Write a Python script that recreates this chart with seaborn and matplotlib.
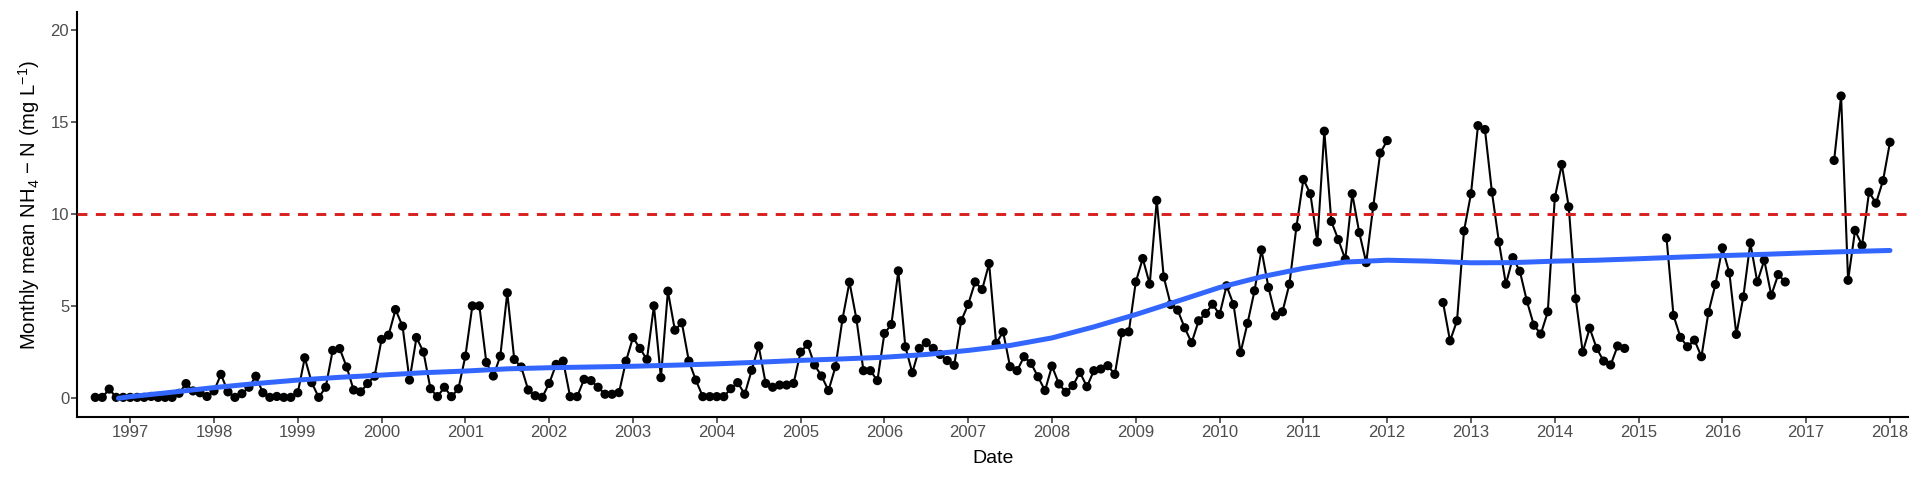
import numpy as np
import pandas as pd
import matplotlib
matplotlib.use("Agg")
import matplotlib.pyplot as plt
import seaborn as sns

# ---------------- data ----------------
start_year = 1996
start_month = 8          # first monthly value: Aug 1996, last: Jan 2018
nan = np.nan
nh4_1996 = [0.05, 0.05, 0.5, 0.05, 0.05]
nh4_1997 = [0.05, 0.05, 0.05, 0.1, 0.05, 0.05, 0.05, 0.27, 0.8, 0.4, 0.3, 0.1]
nh4_1998 = [0.4, 1.3, 0.35, 0.05, 0.25, 0.6, 1.2, 0.3, 0.05, 0.1, 0.05, 0.05]
nh4_1999 = [0.3, 2.2, 0.85, 0.05, 0.6, 2.6, 2.7, 1.7, 0.45, 0.35, 0.8, 1.2]
nh4_2000 = [3.2, 3.43, 4.82, 3.92, 0.99, 3.3, 2.51, 0.52, 0.09, 0.6, 0.09, 0.52]
nh4_2001 = [2.29, 5.02, 5.02, 1.95, 1.21, 2.29, 5.73, 2.11, 1.7, 0.45, 0.14, 0.05]
nh4_2002 = [0.81, 1.84, 2.02, 0.09, 0.09, 1.03, 0.96, 0.6, 0.22, 0.22, 0.31, 2.02]
nh4_2003 = [3.3, 2.71, 2.11, 5.02, 1.12, 5.82, 3.7, 4.1, 2.02, 0.99, 0.09, 0.09]
nh4_2004 = [0.09, 0.09, 0.52, 0.85, 0.22, 1.52, 2.84, 0.81, 0.6, 0.72, 0.72, 0.81]
nh4_2005 = [2.51, 2.93, 1.81, 1.21, 0.42, 1.72, 4.3, 6.31, 4.3, 1.5, 1.5, 0.96]
nh4_2006 = [3.52, 4.01, 6.92, 2.8, 1.39, 2.71, 3.02, 2.71, 2.38, 2.05, 1.79, 4.21]
nh4_2007 = [5.1, 6.32, 5.91, 7.32, 2.98, 3.61, 1.72, 1.5, 2.26, 1.9, 1.17, 0.42]
nh4_2008 = [1.75, 0.78, 0.33, 0.69, 1.41, 0.63, 1.5, 1.59, 1.77, 1.3, 3.56, 3.61]
nh4_2009 = [6.32, 7.59, 6.2, 10.75, 6.59, 5.09, 4.79, 3.83, 3.02, 4.21, 4.61, 5.11]
nh4_2010 = [4.55, 6.11, 5.09, 2.48, 4.07, 5.84, 8.06, 6.02, 4.48, 4.7, 6.2, 9.3]
nh4_2011 = [11.89, 11.11, 8.49, 14.51, 9.61, 8.62, 7.55, 11.11, 9.0, 7.37, 10.42, 13.32]
nh4_2012 = [14.0, nan, nan, nan, nan, nan, nan, nan, 5.2, 3.12, 4.21, 9.09]
nh4_2013 = [11.11, 14.81, 14.6, 11.2, 8.49, 6.2, 7.64, 6.9, 5.29, 3.97, 3.49, 4.7]
nh4_2014 = [10.89, 12.7, 10.4, 5.41, 2.51, 3.81, 2.71, 2.02, 1.81, 2.84, 2.71, nan]
nh4_2015 = [nan, nan, nan, nan, 8.71, 4.5, 3.31, 2.8, 3.16, 2.26, 4.66, 6.18]
nh4_2016 = [8.17, 6.81, 3.47, 5.51, 8.44, 6.32, 7.5, 5.6, 6.72, 6.32, nan, nan]
nh4_2017 = [nan, nan, nan, nan, 12.92, 16.42, 6.41, 9.12, 8.31, 11.2, 10.6, 11.82]
nh4_2018 = [13.91]

# smoothed trend (blue curve)
trend_year = [1996.86, 1997.0, 1997.5, 1998.0, 1998.5, 1999.0, 1999.5, 2000.0,
              2000.5, 2001.0, 2001.5, 2002.0, 2002.5, 2003.0, 2003.5, 2004.0,
              2004.5, 2005.0, 2005.5, 2006.0, 2006.5, 2007.0, 2007.5, 2008.0,
              2008.5, 2009.0, 2009.5, 2010.0, 2010.5, 2011.0, 2011.5, 2012.0,
              2012.5, 2013.0, 2013.5, 2014.0, 2014.5, 2015.0, 2015.5, 2016.0,
              2016.5, 2017.0, 2017.5, 2018.0]
trend_value = [0.0, 0.09, 0.33, 0.58, 0.8, 0.99, 1.14, 1.26,
               1.39, 1.48, 1.6, 1.66, 1.7, 1.74, 1.8, 1.87,
               1.96, 2.06, 2.14, 2.23, 2.38, 2.6, 2.87, 3.28,
               3.88, 4.55, 5.28, 6.02, 6.6, 7.06, 7.4, 7.5,
               7.45, 7.36, 7.37, 7.45, 7.5, 7.58, 7.67, 7.75,
               7.82, 7.9, 7.97, 8.03]

threshold = 10
x_tick_years = list(range(1997, 2019))
y_ticks = [0, 5, 10, 15, 20]
x_label = "Date"
y_label = r"Monthly mean NH$_4$ $-$ N (mg L$^{-1}$)"

# ---------------- assemble ----------------
values = (nh4_1996 + nh4_1997 + nh4_1998 + nh4_1999 + nh4_2000 + nh4_2001 +
          nh4_2002 + nh4_2003 + nh4_2004 + nh4_2005 + nh4_2006 + nh4_2007 +
          nh4_2008 + nh4_2009 + nh4_2010 + nh4_2011 + nh4_2012 + nh4_2013 +
          nh4_2014 + nh4_2015 + nh4_2016 + nh4_2017 + nh4_2018)
month_index = np.arange(len(values)) + (start_month - 1)
df = pd.DataFrame({"date": start_year + month_index / 12.0, "value": values})
df["segment"] = df["value"].isna().cumsum()
df = df.dropna().reset_index(drop=True)
trend = pd.DataFrame({"date": trend_year, "value": trend_value})

# ---------------- style ----------------
sns.set_style("ticks")
plt.rcParams["font.family"] = ["Liberation Sans", "DejaVu Sans"]
plt.rcParams["mathtext.fontset"] = "custom"
plt.rcParams["mathtext.rm"] = "Liberation Sans"
plt.rcParams["mathtext.it"] = "Liberation Sans:italic"
plt.rcParams["mathtext.bf"] = "Liberation Sans:bold"
plt.rcParams["mathtext.default"] = "regular"

W, H = 1920, 480
fig = plt.figure(figsize=(W / 100, H / 100), dpi=100)
left, right, top, bottom = 77.3, 1908.0, 11.7, 416.7
ax = fig.add_axes([left / W, 1 - bottom / H, (right - left) / W, (bottom - top) / H])

sns.lineplot(data=df, x="date", y="value", units="segment", estimator=None,
             sort=False, color="black", linewidth=1.5, ax=ax, zorder=2)
sns.scatterplot(data=df, x="date", y="value", color="black", s=44,
                edgecolor="none", linewidth=0, ax=ax, zorder=3)
sns.lineplot(data=trend, x="date", y="value", color="#3366FF", linewidth=3.6,
             ax=ax, zorder=4)
ax.axhline(threshold, color="#D91E1E", linewidth=2.1, dashes=(3.4, 2.9), zorder=5)

ax.set_xlim(1996.369, 2018.215)
ax.set_ylim(-1, 21)
ax.set_xticks(x_tick_years)
ax.set_xticklabels([str(y) for y in x_tick_years])
ax.set_yticks(y_ticks)
ax.set_yticklabels([str(v) for v in y_ticks])

sns.despine(ax=ax)
for sp in ("left", "bottom"):
    ax.spines[sp].set_linewidth(1.5)
    ax.spines[sp].set_color("black")
ax.tick_params(axis="both", length=4, width=1.1, color="#333333",
               labelcolor="#4D4D4D", labelsize=12, pad=1.8)
ax.set_xlabel(x_label, fontsize=14, color="black", labelpad=7.5)
ax.set_ylabel(y_label, fontsize=14.6, color="black")
ax.yaxis.set_label_coords(-(77.3 - 29.5) / (right - left),
                          (bottom - 205) / (bottom - top))
ax.yaxis.label.set_verticalalignment("center")
ax.grid(False)

fig.savefig("out.png", dpi=100)
